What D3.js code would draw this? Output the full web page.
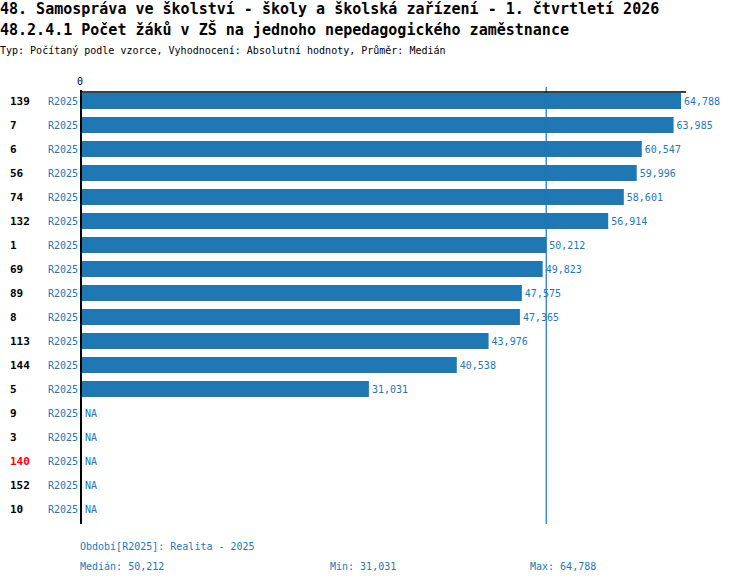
<!DOCTYPE html>
<html>
<head>
<meta charset="utf-8">
<script src="https://cdn.jsdelivr.net/npm/d3@7"></script>
<style>
  body { margin: 0; background: #fff; }
  svg { display: block; font-family: "DejaVu Sans Mono", "Liberation Mono", monospace; }
</style>
</head>
<body>
<svg></svg>
<script>
const width = 750;
const height = 584;

// data
const ids = ["139", "7", "6", "56", "74", "132", "1", "69", "89", "8", "113", "144", "5", "9", "3", "140", "152", "10"];
const values = [64.788, 63.985, 60.547, 59.996, 58.601, 56.914, 50.212, 49.823, 47.575, 47.365, 43.976, 40.538, 31.031, null, null, null, null, null];
const periods = ["R2025", "R2025", "R2025", "R2025", "R2025", "R2025", "R2025", "R2025", "R2025", "R2025", "R2025", "R2025", "R2025", "R2025", "R2025", "R2025", "R2025", "R2025"];
const highlighted = ["140"];

const titleLines = [
    "48. Samospráva ve školství - školy a školská zařízení - 1. čtvrtletí 2026",
    "48.2.4.1 Počet žáků v ZŠ na jednoho nepedagogického zaměstnance"
];
const subtitle = "Typ: Počítaný podle vzorce, Vyhodnocení: Absolutní hodnoty, Průměr: Medián";
const periodNote = "Období[R2025]: Realita - 2025";

const blue = "#1f77b4";
const czech = d3.formatLocale({ decimal: ",", thousands: " ", grouping: [3], currency: ["", " Kč"] });
const fmt = czech.format(".3f");

let svg = d3.select("svg")
    .attr("width", width)
    .attr("height", height);

const rows = ids.map((id, i) => ({ id, value: values[i], period: periods[i] }));
const known = values.filter(v => v != null);

// scales
const x = d3.scaleLinear()
    .domain([0, d3.max(known)])
    .range([82, 681]);
const y = d3.scaleBand()
    .domain(ids)
    .range([89, 521])
    .paddingInner(1 / 3)
    .paddingOuter(1 / 6);

// titles
svg.selectAll(".title")
    .data(titleLines)
    .enter()
    .append("text")
    .attr("x", 0)
    .attr("y", (d, i) => 14 + i * 21)
    .style("font-size", "15px")
    .style("font-weight", "bold")
    .text(d => d);

svg.append("text")
    .attr("x", 0)
    .attr("y", 54)
    .style("font-size", "10px")
    .text(subtitle);

// bars
svg.selectAll(".bar")
    .data(rows.filter(d => d.value != null))
    .enter()
    .append("rect")
    .attr("x", x(0))
    .attr("y", d => y(d.id))
    .attr("width", d => x(d.value) - x(0))
    .attr("height", y.bandwidth())
    .style("fill", blue);

// median line
const median = d3.median(known);
svg.append("line")
    .attr("x1", x(median)).attr("x2", x(median))
    .attr("y1", 87).attr("y2", 524)
    .style("stroke", blue)
    .style("stroke-width", 1.2);

// axes
svg.append("line")
    .attr("x1", 80).attr("x2", x.range()[1] + 5)
    .attr("y1", 92).attr("y2", 92)
    .style("stroke", "#000")
    .style("stroke-width", 1.5);
svg.append("line")
    .attr("x1", 81).attr("x2", 81)
    .attr("y1", 90).attr("y2", 524)
    .style("stroke", "#000")
    .style("stroke-width", 2);
svg.append("text")
    .attr("x", x(0) - 2)
    .attr("y", 85)
    .attr("text-anchor", "middle")
    .style("font-size", "10px")
    .text("0");

// row labels
const mid = d => y(d.id) + y.bandwidth() / 2;
svg.selectAll(".rowid")
    .data(rows)
    .enter()
    .append("text")
    .attr("x", 10)
    .attr("y", d => mid(d) + 4)
    .style("font-size", "11px")
    .style("font-weight", "bold")
    .style("fill", d => highlighted.includes(d.id) ? "#ff0000" : "#000")
    .text(d => d.id);

svg.selectAll(".period")
    .data(rows)
    .enter()
    .append("text")
    .attr("x", 78)
    .attr("y", d => mid(d) + 4)
    .attr("text-anchor", "end")
    .style("font-size", "10px")
    .style("fill", blue)
    .text(d => d.period);

// value labels
svg.selectAll(".val")
    .data(rows)
    .enter()
    .append("text")
    .attr("x", d => (d.value != null ? x(d.value) : x(0)) + 3)
    .attr("y", d => mid(d) + 4)
    .style("font-size", "10px")
    .style("fill", blue)
    .text(d => d.value != null ? fmt(d.value) : "NA");

// footer
svg.append("text")
    .attr("x", 80).attr("y", 550)
    .style("font-size", "10px")
    .style("fill", blue)
    .text(periodNote);

const stats = [
    ["Medián: " + fmt(median), 80],
    ["Min: " + fmt(d3.min(known)), 330],
    ["Max: " + fmt(d3.max(known)), 530]
];
svg.selectAll(".stat")
    .data(stats)
    .enter()
    .append("text")
    .attr("x", d => d[1])
    .attr("y", 570)
    .style("font-size", "10px")
    .style("fill", blue)
    .text(d => d[0]);
</script>
</body>
</html>
